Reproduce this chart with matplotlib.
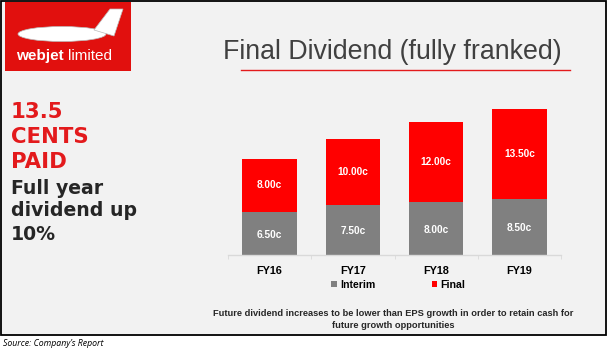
import matplotlib
matplotlib.use('Agg')
import matplotlib.pyplot as plt
from matplotlib.patches import Rectangle, Ellipse, Polygon
import numpy as np

# dividend data (cents per share)
years = ["FY16", "FY17", "FY18", "FY19"]
interim = [6.50, 7.50, 8.00, 8.50]
final = [8.00, 10.00, 12.00, 13.50]

GRAY = "#808080"
RED = "#ff0000"
BG = "#f2f2f2"

W, H = 613, 357
fig = plt.figure(figsize=(W / 100, H / 100), dpi=100)
fig.patch.set_facecolor("white")


def px(x, y):
    # pixel (from top-left) -> figure fraction
    return x / W, 1 - y / H


# slide box
bx0, by0 = px(1, 335)
bx1, by1 = px(606, 1)
fig.patches.append(Rectangle((bx0, by0), bx1 - bx0, by1 - by0, transform=fig.transFigure,
                             facecolor=BG, edgecolor="black", linewidth=1.3, zorder=0))

# logo block
lx0, ly0 = px(5, 71)
lx1, ly1 = px(131, 2)
fig.patches.append(Rectangle((lx0, ly0), lx1 - lx0, ly1 - ly0, transform=fig.transFigure,
                             facecolor="#e1100e", edgecolor="none", zorder=1))
ex, ey = px(62, 34)
fig.patches.append(Ellipse((ex, ey), 88 / W, 15 / H, transform=fig.transFigure,
                           facecolor="white", edgecolor="#bbbbbb", linewidth=0.5, zorder=2))
tail = [px(94, 30), px(110, 9), px(123, 9), px(114, 36)]
fig.patches.append(Polygon(tail, closed=True, transform=fig.transFigure,
                           facecolor="white", edgecolor="#bbbbbb", linewidth=0.5, zorder=2))
fig.text(*px(16, 56), "webjet", color="white", fontsize=11, fontweight="bold",
         family="Liberation Sans", va="center", ha="left", zorder=3)
fig.text(*px(68, 56), "limited", color="white", fontsize=11,
         family="Liberation Sans", va="center", ha="left", zorder=3)

# left headline
for txt, y in [("13.5", 118), ("CENTS", 143), ("PAID", 168)]:
    fig.text(*px(11, y), txt, color="#e31a1c", fontsize=15.3, fontweight="bold",
             family="DejaVu Sans", va="baseline", ha="left")
for txt, y in [("Full year", 194), ("dividend up", 216), ("10%", 240)]:
    fig.text(*px(11, y), txt, color="#262626", fontsize=13.6, fontweight="bold",
             family="DejaVu Sans", va="baseline", ha="left")

# title + underline
fig.text(*px(392, 52), "Final Dividend (fully franked)", color="#404040", fontsize=19.3,
         family="Liberation Sans", ha="center", va="center")
fig.lines.append(plt.Line2D([241 / W, 570 / W], [1 - 70 / H] * 2, transform=fig.transFigure,
                            color="#e31a1c", linewidth=1.0))

# chart
ax = fig.add_axes([228 / W, 1 - 255 / H, 333 / W, 155 / H])
ax.set_zorder(5)
ax.patch.set_visible(False)
x = np.arange(len(years))
bw = 0.655
ax.bar(x, interim, bw, color=GRAY, label="Interim")
ax.bar(x, final, bw, bottom=interim, color=RED, label="Final")
for i in range(len(years)):
    ax.text(x[i], interim[i] / 2 - 0.2, f"{interim[i]:.2f}c", color="white", fontsize=7.3,
            fontweight="bold", family="Liberation Sans", ha="center", va="center")
    ax.text(x[i], interim[i] + final[i] / 2, f"{final[i]:.2f}c", color="white", fontsize=7.3,
            fontweight="bold", family="Liberation Sans", ha="center", va="center")

ax.set_xlim(-0.5, len(years) - 0.5)
ax.set_ylim(0, 155 / 6.64)
for s in ["top", "right", "left"]:
    ax.spines[s].set_visible(False)
ax.spines["bottom"].set_color("#d9d9d9")
ax.spines["bottom"].set_linewidth(1.0)
ax.set_yticks([])
ax.set_xticks(x)
ax.set_xticklabels(years, fontsize=7.8, fontweight="bold", family="Liberation Sans")
ax.set_xticks(np.arange(-0.5, len(years)), minor=True)
ax.tick_params(axis="x", which="major", length=0, pad=8)
ax.tick_params(axis="x", which="minor", length=3, color="#d9d9d9")

ax.legend(loc="center", bbox_to_anchor=(0.512, -0.194), ncol=2, frameon=False,
          handlelength=0.5, handleheight=0.5, handletextpad=0.3, columnspacing=5.4,
          prop={"family": "Liberation Sans", "weight": "bold", "size": 7.6})

# footnote
fig.text(*px(393, 314), "Future dividend increases to be lower than EPS growth in order to retain cash for",
         fontsize=6.7, fontweight="bold", family="Liberation Sans", color="#262626", ha="center", va="center")
fig.text(*px(393, 325), "future growth opportunities",
         fontsize=6.7, fontweight="bold", family="Liberation Sans", color="#262626", ha="center", va="center")

# source
fig.text(*px(3, 344), "Source: Company\u2019s Report", fontsize=6.3, style="italic",
         family="Open Sans", color="black", ha="left", va="center")

fig.savefig("out.png", dpi=100, facecolor=fig.get_facecolor())
